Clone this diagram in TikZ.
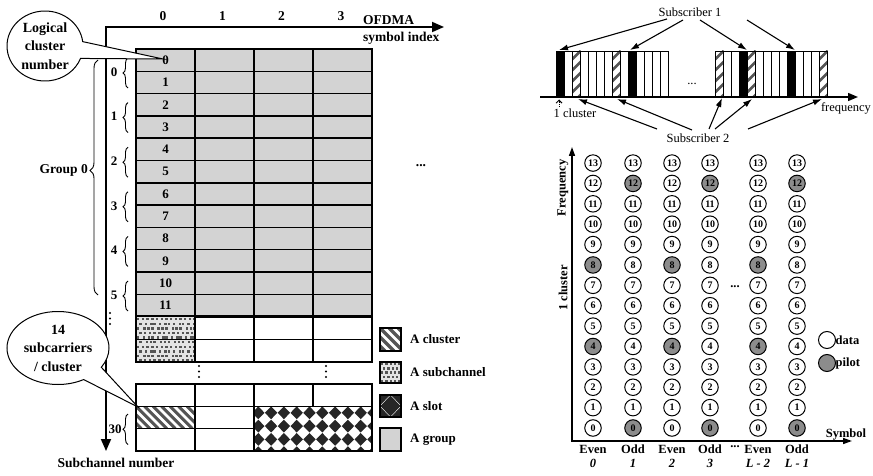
\documentclass[tikz,border=0pt]{standalone}
\usepackage{fontspec}
\setmainfont{Liberation Serif}
\usetikzlibrary{arrows.meta,shapes.callouts,shapes.geometric,decorations.pathreplacing}
\definecolor{grp}{HTML}{D3D3D3}
\definecolor{pilotc}{HTML}{8C8C8C}
\definecolor{hatchc}{HTML}{555555}
\definecolor{dotbg}{HTML}{E4E4E4}
\begin{document}
\begin{tikzpicture}[x=1pt,y=-1pt,
  lbl/.style={font=\fontsize{13.5}{15}\selectfont\bfseries, inner sep=0pt},
  numlbl/.style={font=\fontsize{13}{15}\selectfont\bfseries, inner sep=0pt},
  leglbl/.style={font=\fontsize{13}{15}\selectfont\bfseries, inner sep=0pt, anchor=west},
  rlbl/.style={font=\fontsize{12.5}{14}\selectfont, inner sep=0pt},
  blbl/.style={font=\fontsize{12.5}{14}\selectfont\bfseries, inner sep=0pt},
  bilbl/.style={font=\fontsize{12.5}{14}\selectfont\bfseries\itshape, inner sep=0pt},
  gline/.style={line width=1.4pt},
  bline/.style={line width=2.4pt},
  bracestyle/.style={decorate, decoration={brace, amplitude=5pt}, line width=0.9pt},
  bubble/.style={ellipse callout, draw, fill=white, line width=1pt, inner sep=0pt, align=center, font=\fontsize{14}{18.5}\selectfont\bfseries},
  circ/.style={circle, draw, line width=1pt, minimum size=16.5pt, inner sep=0pt, font=\fontsize{10}{10}\selectfont\bfseries},
  subarrow/.style={line width=1.1pt, -{Latex[length=9pt,width=6pt]}},
  specbar/.style={draw, line width=0.9pt},
]
\useasboundingbox (0,0) rectangle (873,476);

% ---------------- LEFT: grid ----------------
\fill[grp] (136,49) rectangle (372,316.6);
\foreach \i in {1,...,11} \draw[gline] (136,{49+22.3*\i}) -- (372,{49+22.3*\i});
\draw[gline] (195,49) -- (195,316.6) (313,49) -- (313,316.6);
\draw[line width=2pt] (254,49) -- (254,316.6);
\draw[bline] (136,49) rectangle (372,316.6);

% subchannel pattern cells
\fill[dotbg] (136,316.6) rectangle (195,362);
\begin{scope}
\clip (136,316.6) rectangle (195,362);
\foreach \r in {0,...,9} \foreach \c in {0,...,12}
  \fill[hatchc] ({137+4.7*\c+2.3*mod(\r,2)+0.8*mod(\c*\r,3)}, {318+4.6*\r}) rectangle ++(2.4,2.4);
\end{scope}
\draw[gline] (136,316.6) rectangle (372,362);
\draw[gline] (136,339.3) -- (372,339.3);
\draw[gline] (195,316.6) -- (195,362) (254,316.6) -- (254,362) (313,316.6) -- (313,362);

% cluster hatch cell
\begin{scope}
\clip (136,406.3) rectangle (195,428.6);
\foreach \k in {-3,...,8} \draw[line width=3pt, hatchc] ({136+8.5*\k},406.3) -- ++(22.3,22.3);
\end{scope}
% slot diamonds
\begin{scope}
\clip (254,406.3) rectangle (372,451);
\foreach \i in {0,...,9} \foreach \j in {0,...,3}
  \fill[black!85] ({258.3+12.8*\i-6.2},{412.8+13.3*\j}) -- ({258.3+12.8*\i},{412.8+13.3*\j-6.4})
     -- ({258.3+12.8*\i+6.2},{412.8+13.3*\j}) -- ({258.3+12.8*\i},{412.8+13.3*\j+6.4}) -- cycle;
\end{scope}
\draw[gline] (136,384) rectangle (372,451);
\draw[gline] (136,406.3) -- (372,406.3) (136,428.6) -- (254,428.6);
\draw[gline] (195,384) -- (195,451) (254,384) -- (254,451) (313,384) -- (313,406.3);
\draw[bline] (136,316.6) -- (136,362) (136,384) -- (136,451);

% row labels
\foreach \i in {0,...,11} \node[numlbl] (r\i) at (165.5,{49+22.3*\i+11.15}) {\i};

% middle dots
\foreach \xx in {199,326} \foreach \yy in {366,371.5,377} \fill (\xx,\yy) circle (1.2pt);
\foreach \yy in {313,318.5,324} \fill (110,\yy) circle (1.2pt);
\node[lbl] (rdots) at (421,166) {...};

% axes
\coordinate (axC) at (106,27);
\coordinate (axR) at (444,27);
\coordinate (axD) at (106,451);
\draw[line width=1.8pt, {Triangle[length=12pt,width=10pt]}-{Triangle[length=12pt,width=10pt]}] (axD) -- (axC) -- (axR);

% column labels
\foreach \xx [count=\n from 0] in {163,222.5,281.5,341} \node[lbl] (col\n) at (\xx,16) {\n};
\node[lbl, anchor=west] (ofdma) at (363,20) {OFDMA};
\node[lbl, anchor=west] (symidx) at (363,38) {symbol index};

% subchannel labels and braces
\foreach \k in {0,...,5} {
  \node[numlbl] (s\k) at (114,{72+44.6*\k}) {\k};
  \draw[bracestyle] (128,{73+44.6*\k+15}) -- (128,{73+44.6*\k-15});
}
\node[numlbl] (s30) at (115,429) {30};
\draw[bracestyle] (128,444.5) -- (128,414);

% group brace
\draw[decorate, decoration={brace, amplitude=8pt, aspect=0.53}, line width=0.9pt] (98,295) -- (98,60);
\node[lbl, anchor=east] (g0) at (88,170) {Group 0};

\node[lbl] (subnum) at (116,463) {Subchannel number};

% callouts
\node[bubble, minimum width=76pt, minimum height=70pt, callout absolute pointer={(163,59)}, callout pointer arc=28] (lcn) at (45,46) {Logical\\cluster\\number};
\node[bubble, minimum width=102pt, minimum height=73pt, callout absolute pointer={(138,407)}, callout pointer arc=28] (spc) at (58,348) {14\\subcarriers\\/ cluster};

% legend
\begin{scope}
\clip (380,328) rectangle (401,351);
\foreach \k in {-3,...,3} \draw[line width=3.5pt, hatchc] ({380+9*\k},328) -- ++(23,23);
\end{scope}
\draw[gline] (380,328) rectangle (401,351);
\fill[dotbg] (380,362) rectangle (401,383);
\begin{scope}
\clip (380,362) rectangle (401,383);
\foreach \r in {0,...,4} \foreach \c in {0,...,4}
  \fill[hatchc] ({381+4.3*\c+2*mod(\r,2)}, {363+4.2*\r}) rectangle ++(2.4,2.4);
\end{scope}
\draw[gline] (380,362) rectangle (401,383);
\begin{scope}
\clip (380,395) rectangle (401,417);
\foreach \dx/\dy in {380/395, 401/395, 380/417, 401/417, 390.5/406}
  \fill[black!85] ({\dx-10},\dy) -- (\dx,{\dy-10.5}) -- ({\dx+10},\dy) -- (\dx,{\dy+10.5}) -- cycle;
\end{scope}
\draw[gline] (380,395) rectangle (401,417);
\draw[gline, fill=grp] (380,428) rectangle (401,451);
\node[leglbl] (lg1) at (410,339.5) {A cluster};
\node[leglbl] (lg2) at (410,372.5) {A subchannel};
\node[leglbl] (lg3) at (410,406) {A slot};
\node[leglbl] (lg4) at (410,439.5) {A group};

% ---------------- RIGHT TOP: spectrum ----------------
\foreach \k in {0,...,13} {
  \draw[specbar] ({556.5+8*\k},51) rectangle ++(8,46);
  \draw[specbar] ({715.5+8*\k},51) rectangle ++(8,46);
}
\foreach \xx in {556.5, 628.5, 739.5, 787.5} \fill[black] (\xx,51) rectangle ++(8,46);
\foreach \xx in {572.5, 612.5, 715.5, 747.5, 819.5} {
  \begin{scope}
  \clip (\xx,51) rectangle ++(8,46);
  \foreach \k in {0,...,5} \draw[line width=2.8pt, hatchc] ({\xx-1},{60+11*\k}) -- ++(10,-10);
  \end{scope}
  \draw[specbar] (\xx,51) rectangle ++(8,46);
}
\coordinate (fa0) at (540,97);
\coordinate (fa1) at (858,97);
\draw[line width=1.4pt, -{Triangle[length=10pt,width=8pt]}] (fa0) -- (fa1);
\node[rlbl] (sdots) at (692,84) {...};
\node[rlbl] (freqtxt) at (846,108) {frequency};
\node[rlbl] (onecl) at (575,113) {1 cluster};
\coordinate (dc0) at (559,107);
\coordinate (dc1) at (559,99.5);
\draw[densely dotted, line width=0.9pt, -{Straight Barb[length=3pt,width=6pt]}] (dc0) -- (dc1);

\node[rlbl] (sub1) at (690,12) {Subscriber 1};
\coordinate (a1s) at (667,19);  \coordinate (a1t) at (559,50);
\coordinate (a2s) at (683,20);  \coordinate (a2t) at (630,50);
\coordinate (a3s) at (700,20);  \coordinate (a3t) at (747,50);
\coordinate (a4s) at (747,20);  \coordinate (a4t) at (795,50);
\foreach \n in {1,2,3,4} \draw[subarrow] (a\n s) -- (a\n t);

\node[rlbl] (sub2) at (698,138) {Subscriber 2};
\coordinate (b1s) at (657,129); \coordinate (b1t) at (578,99);
\coordinate (b2s) at (692,130); \coordinate (b2t) at (617,99);
\coordinate (b3s) at (709,129); \coordinate (b3t) at (722,98);
\coordinate (b4s) at (715,129); \coordinate (b4t) at (752,99);
\coordinate (b5s) at (748,129); \coordinate (b5t) at (822,99);
\foreach \n in {1,...,5} \draw[subarrow] (b\n s) -- (b\n t);

% ---------------- RIGHT BOTTOM: pilot grid ----------------
\coordinate (gyt) at (572,147);
\coordinate (gyo) at (572,441);
\coordinate (gxt) at (852,441);
\draw[line width=1.5pt, {Triangle[length=9pt,width=6pt]}-{Triangle[length=9pt,width=6pt]}] (gyt) -- (gyo) -- (gxt);
\node[blbl, rotate=90] (freqlbl) at (563,188) {Frequency};
\node[blbl, rotate=90] (clulbl) at (563,288) {1 cluster};
\node[blbl] (symb) at (846,435) {Symbol};

\foreach \cx [count=\c from 0] in {593,633,672,710,758,797} {
  \foreach \r in {0,...,13} {
    \pgfmathtruncatemacro\isp{(mod(\c,2)==0 && (\r==8 || \r==4)) || (mod(\c,2)==1 && (\r==12 || \r==0))}
    \ifnum\isp=1 \def\fc{pilotc}\else\def\fc{white}\fi
    \node[circ, fill=\fc] (p\c-\r) at (\cx,{428-20.38*\r}) {\r};
  }
}
\node[blbl] (gdots) at (735,287) {...};
\foreach \cx/\t/\n [count=\c from 0] in {593/Even/0, 633/Odd/1, 672/Even/2, 710/Odd/3, 758/Even/L - 2, 797/Odd/L - 1} {
  \node[blbl] (eo\c) at (\cx,449) {\t};
  \node[bilbl] (ix\c) at (\cx,463) {\n};
}
\node[blbl] (ldots) at (735,447) {...};

\node[circ, minimum size=17pt, fill=white] (dleg) at (827,340) {};
\node[circ, minimum size=17pt, fill=pilotc] (pleg) at (827,363) {};
\node[blbl, anchor=west] (dtxt) at (835.5,340) {data};
\node[blbl, anchor=west] (ptxt) at (835.5,363) {pilot};
\end{tikzpicture}
\end{document}
